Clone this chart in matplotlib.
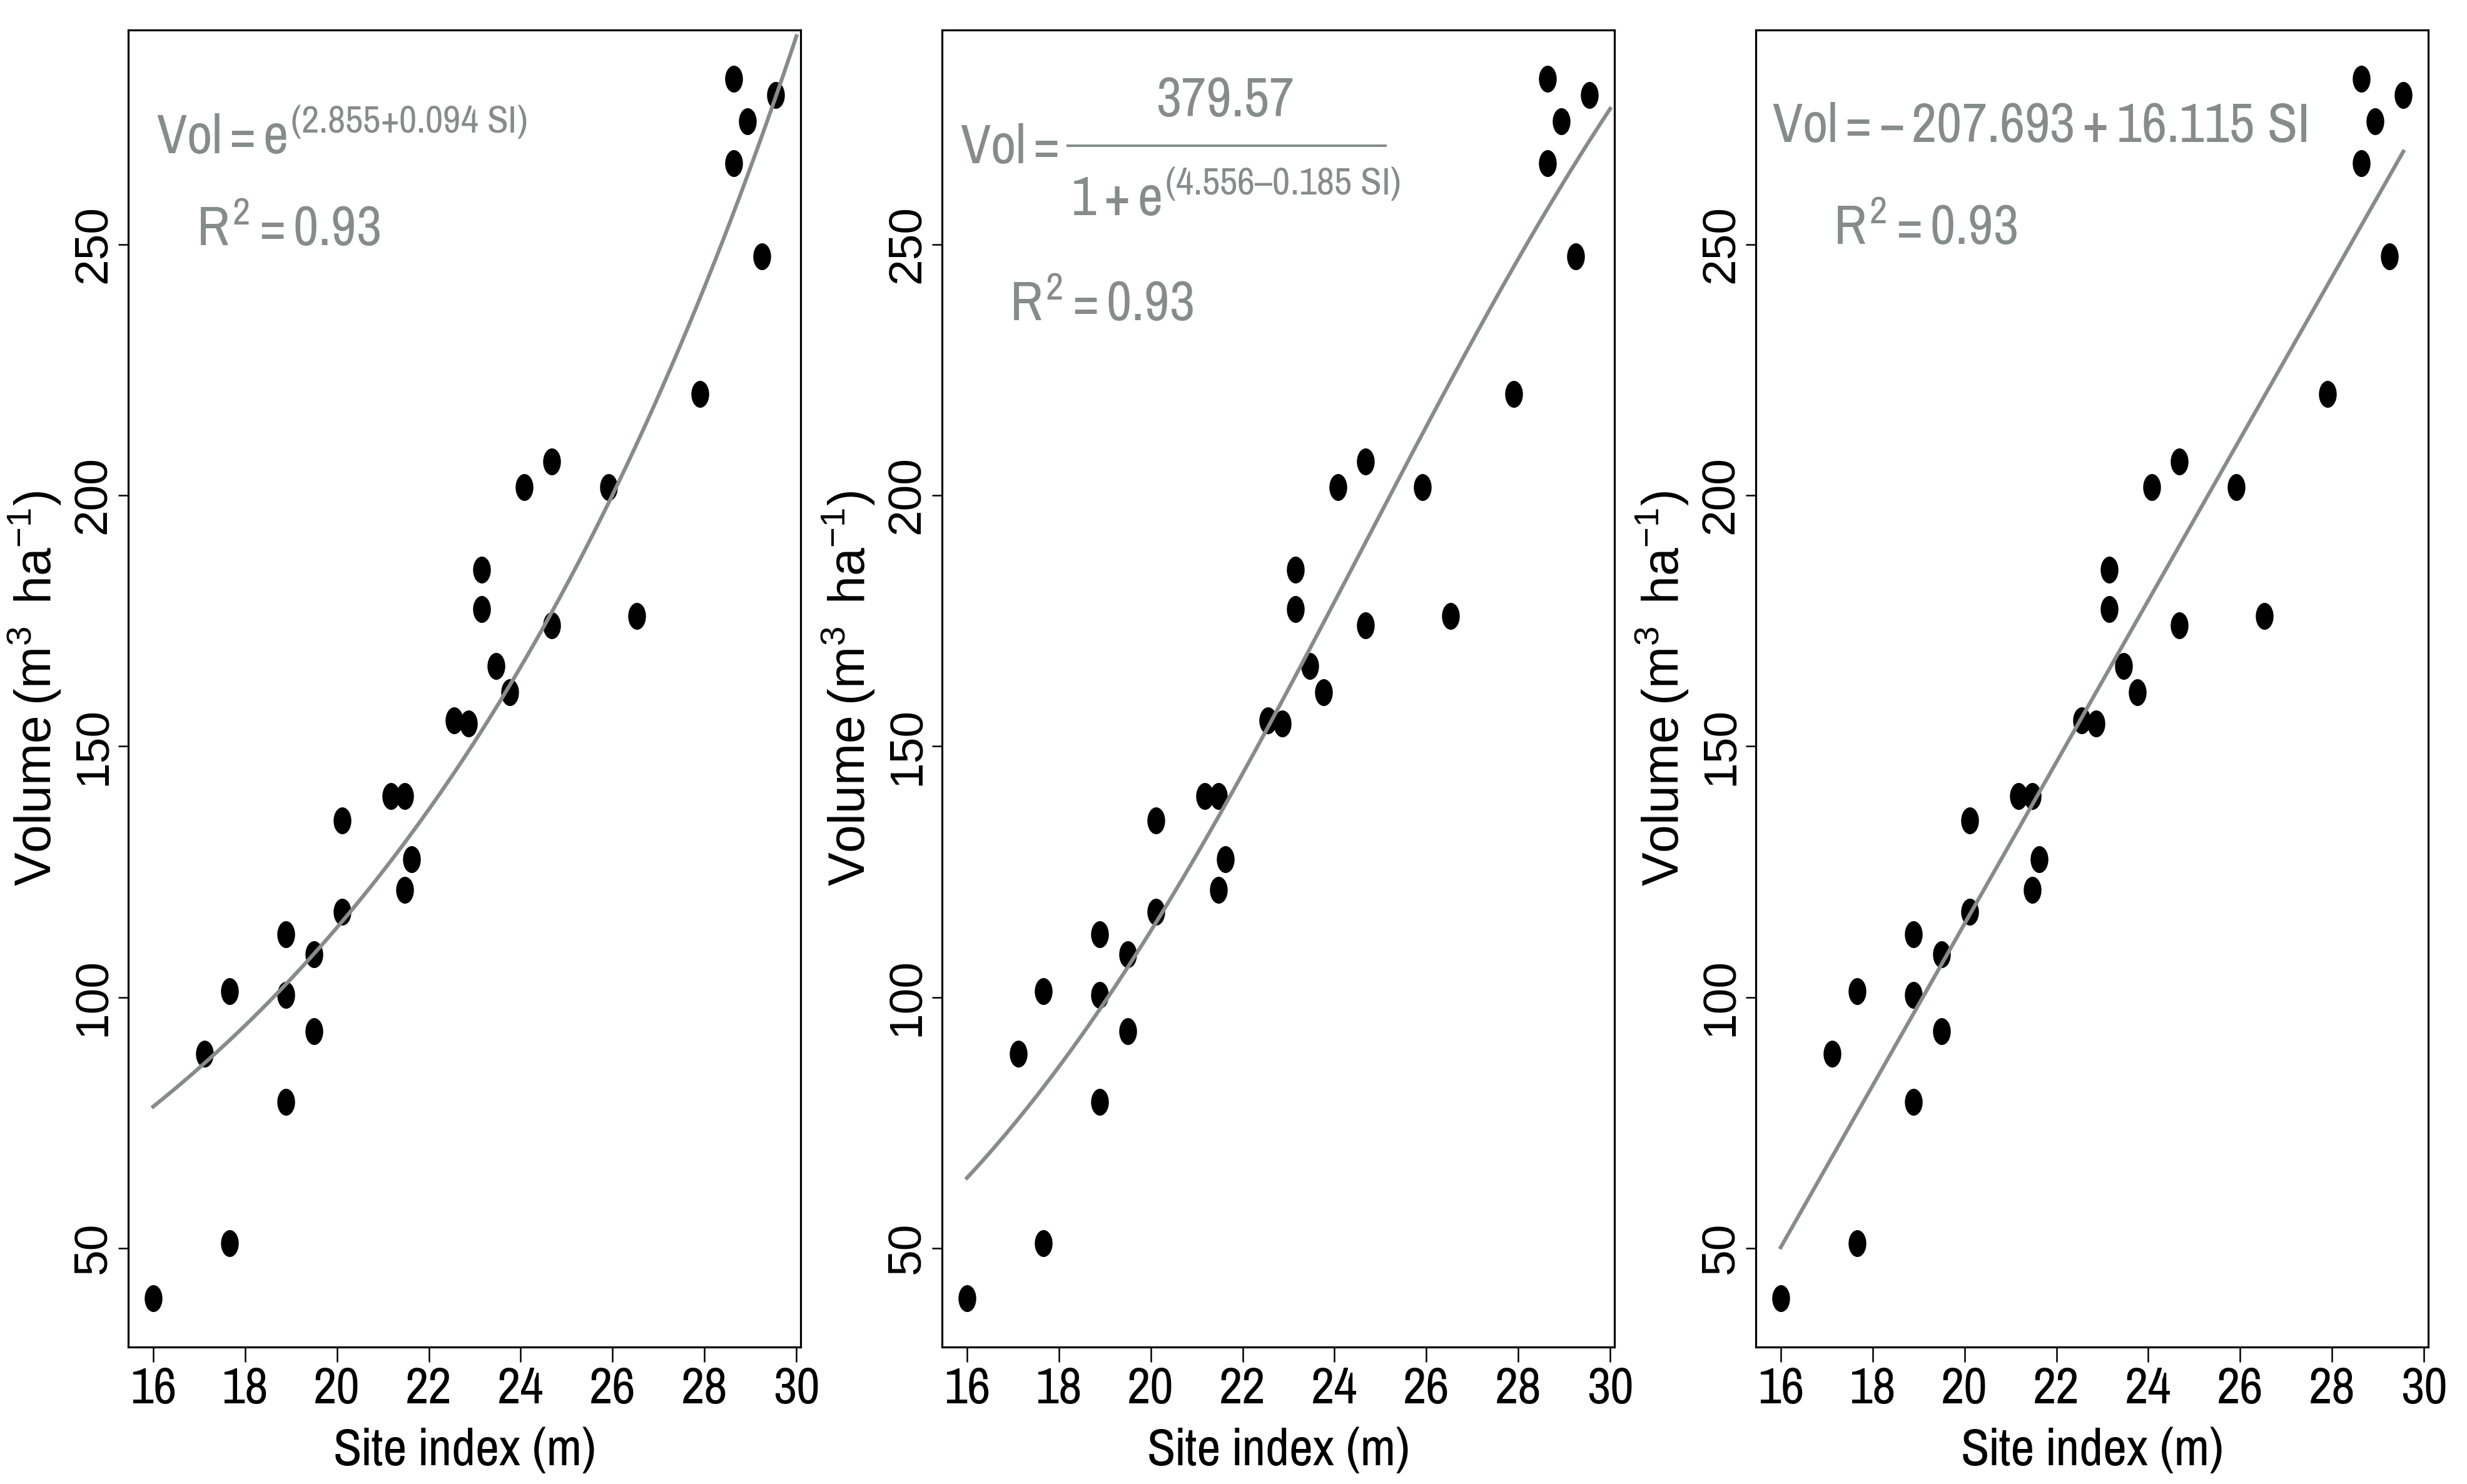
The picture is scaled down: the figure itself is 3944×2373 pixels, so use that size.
import numpy as np
import matplotlib
matplotlib.use("Agg")
import matplotlib.pyplot as plt
from matplotlib import font_manager as fm
from matplotlib.path import Path

# ---------------- data ----------------
site_index = [16.00, 17.12, 17.67, 17.67, 18.89, 18.89, 18.89, 19.50, 19.50,
              20.12, 20.12, 21.17, 21.48, 21.48, 21.63, 22.55, 22.86, 23.15,
              23.15, 23.46, 23.76, 24.07, 24.68, 24.68, 25.91, 26.52, 27.90,
              28.63, 28.63, 28.93, 29.25, 29.55]
volume = [40.0, 88.7, 51.0, 101.2, 79.1, 100.5, 112.5, 93.2, 108.6,
          117.0, 135.2, 140.1, 140.1, 121.4, 127.5, 155.2, 154.5, 185.2,
          177.3, 166.0, 160.8, 201.6, 206.7, 174.1, 201.6, 176.0, 220.2,
          283.0, 266.2, 274.5, 247.6, 279.7]

x_ticks = [16, 18, 20, 22, 24, 26, 28, 30]
y_ticks = [50, 100, 150, 200, 250]

exp_coef = [2.855, 0.094]            # Vol = exp(a + b SI)
logis_coef = [379.57, 4.556, 0.185]  # Vol = K / (1 + exp(a - b SI))
lin_coef = [-207.693, 16.115]        # Vol = a + b SI
r2_values = ["0.93", "0.93", "0.93"]

x_label = "Site index (m)"

# ---------------- fonts ----------------
names = {f.name for f in fm.fontManager.ttflist}
NARROW = "Liberation Sans"
for cand in ["Nimbus Sans Narrow", "Liberation Sans Narrow", "Arial Narrow",
             "Pragati Narrow", "Archivo Narrow", "Roboto Condensed",
             "PT Sans Narrow", "Barlow Semi Condensed"]:
    if cand in names:
        NARROW = cand
        break
REG = "Liberation Sans"
plt.rcParams["mathtext.fontset"] = "custom"
plt.rcParams["mathtext.rm"] = NARROW
plt.rcParams["mathtext.it"] = NARROW
plt.rcParams["mathtext.bf"] = NARROW
plt.rcParams["mathtext.sf"] = REG
plt.rcParams["font.family"] = [NARROW, "DejaVu Sans"]

GRAY = "#868c8a"
DASH = "\u2013"
CURVE_LW = 4.4

W, H = 3944, 2373
fig = plt.figure(figsize=(W / 100, H / 100), dpi=100)
fig.patch.set_facecolor("white")

AX_W, AX_H = 1075, 2106
AX_BOTTOM_PX = 2154
lefts = [205, 1506, 2807]

# ellipse marker (taller than wide)
circ = Path.unit_circle()
ell = Path(circ.vertices * np.array([0.66, 1.0]), circ.codes)

xs = np.array(site_index)
ys = np.array(volume)
xr = xs.max() - xs.min()
yr = ys.max() - ys.min()
xlim = (xs.min() - 0.04 * xr, xs.max() + 0.04 * xr)
ylim = (ys.min() - 0.04 * yr, ys.max() + 0.04 * yr)

EQ_FS = 69


def make_ax(i):
    ax = fig.add_axes([lefts[i] / W, (H - AX_BOTTOM_PX) / H, AX_W / W, AX_H / H])
    ax.set_xlim(*xlim)
    ax.set_ylim(*ylim)
    for s in ax.spines.values():
        s.set_linewidth(2.3)
        s.set_color("black")
    ax.set_xticks(x_ticks)
    ax.set_xticklabels([str(v) for v in x_ticks], fontsize=64, family=NARROW)
    ax.set_yticks(y_ticks)
    ax.set_yticklabels([str(v) for v in y_ticks], rotation=90, va="center",
                       fontsize=54, family=REG)
    ax.tick_params(axis="x", length=17, width=1.8, pad=5, color="black")
    ax.tick_params(axis="y", length=11.5, width=1.8, pad=4, color="black")
    ax.plot(xs, ys, linestyle="none", marker=ell, markersize=31,
            color="black", markeredgewidth=0, zorder=2)
    ax.text(0.5, (AX_BOTTOM_PX - 2343) / AX_H, x_label, transform=ax.transAxes,
            ha="center", va="baseline", fontsize=65, family=NARROW)
    ax.text(-0.0977, 0.5, r"$\mathsf{Volume\ (m^{3}\ \ ha^{-1})}$",
            transform=ax.transAxes, rotation=90, ha="right", va="center",
            fontsize=58)
    return ax


# Panel 1: exponential
ax1 = make_ax(0)
xc = np.linspace(16, 30, 300)
ax1.plot(xc, np.exp(exp_coef[0] + exp_coef[1] * xc), color=GRAY, lw=CURVE_LW,
         zorder=3)
ax1.text(0.042, 0.906,
         r"$\mathrm{Vol} = e^{\text{(%.3f+%.3f SI)}}$" % (exp_coef[0], exp_coef[1]),
         transform=ax1.transAxes, ha="left", va="baseline", fontsize=EQ_FS, color=GRAY)
ax1.text(0.101, 0.836, r"$R^{2} = %s$" % r2_values[0], transform=ax1.transAxes,
         ha="left", va="baseline", fontsize=EQ_FS, color=GRAY)

# Panel 2: logistic
ax2 = make_ax(1)
ax2.plot(xc, logis_coef[0] / (1 + np.exp(logis_coef[1] - logis_coef[2] * xc)),
         color=GRAY, lw=CURVE_LW, zorder=3)
ax2.text(0.027, 0.899, r"$\mathrm{Vol} =$", transform=ax2.transAxes,
         ha="left", va="baseline", fontsize=EQ_FS, color=GRAY)
ax2.text(0.422, 0.9345, "%.2f" % logis_coef[0], transform=ax2.transAxes,
         ha="center", va="baseline", fontsize=EQ_FS, color=GRAY, family=NARROW)
ax2.plot([0.185, 0.661], [0.912, 0.912], transform=ax2.transAxes, color=GRAY,
         lw=2.9, solid_capstyle="butt")
ax2.text(0.192, 0.859,
         r"$1+e^{\text{(%.3f" % logis_coef[1] + DASH + r"%.3f SI)}}$" % logis_coef[2],
         transform=ax2.transAxes, ha="left", va="baseline", fontsize=EQ_FS, color=GRAY)
ax2.text(0.100, 0.779, r"$R^{2} = %s$" % r2_values[1], transform=ax2.transAxes,
         ha="left", va="baseline", fontsize=EQ_FS, color=GRAY)

# Panel 3: linear
ax3 = make_ax(2)
xl = np.array([xs.min(), xs.max()])
ax3.plot(xl, lin_coef[0] + lin_coef[1] * xl, color=GRAY, lw=CURVE_LW, zorder=3)
ax3.text(0.024, 0.915,
         r"$\mathrm{Vol} = -\,%.3f + %.3f\ \mathrm{SI}$" % (abs(lin_coef[0]), lin_coef[1]),
         transform=ax3.transAxes, ha="left", va="baseline", fontsize=EQ_FS, color=GRAY)
ax3.text(0.115, 0.837, r"$R^{2} = %s$" % r2_values[2], transform=ax3.transAxes,
         ha="left", va="baseline", fontsize=EQ_FS, color=GRAY)

fig.savefig("out.png", dpi=100, facecolor="white")
